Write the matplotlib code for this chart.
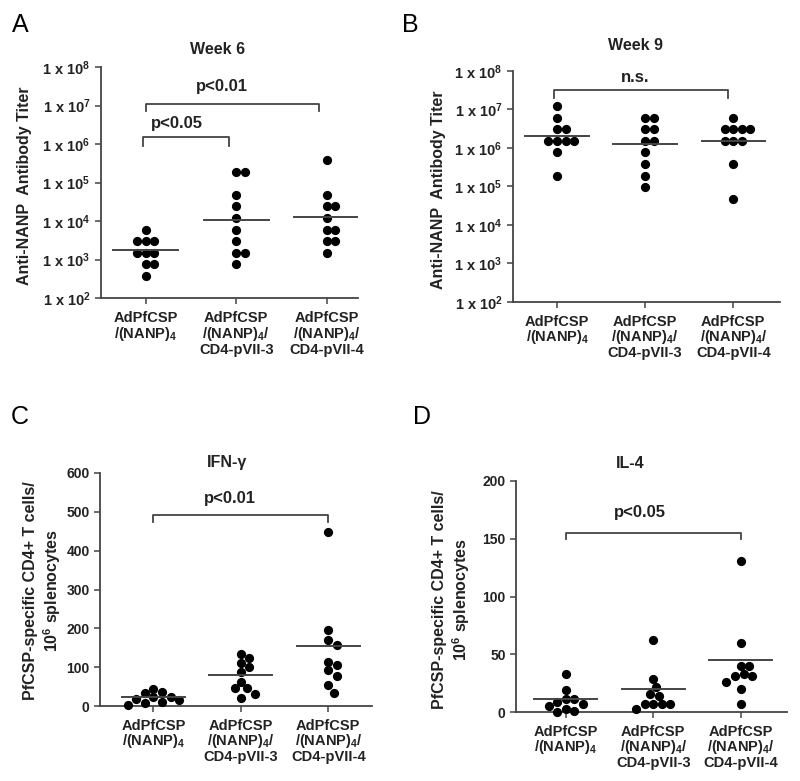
import numpy as np
import matplotlib
matplotlib.use("Agg")
import matplotlib.pyplot as plt

plt.rcParams['font.family'] = ['Liberation Sans', 'DejaVu Sans']
plt.rcParams['font.weight'] = 'bold'
plt.rcParams['mathtext.fontset'] = 'custom'
plt.rcParams['mathtext.rm'] = 'Liberation Sans:bold'
plt.rcParams['mathtext.bf'] = 'Liberation Sans:bold'
plt.rcParams['mathtext.it'] = 'Liberation Sans:bold'

# ===================== DADOS =====================
grupos = ["AdPfCSP\n/(NANP)$_4$",
          "AdPfCSP\n/(NANP)$_4$/\nCD4-pVII-3",
          "AdPfCSP\n/(NANP)$_4$/\nCD4-pVII-4"]

# A - semana 6 (titulo anti-NANP)
sem6_g1 = [6000, 3000, 3000, 3000, 1500, 1500, 1500, 750, 750, 375]
sem6_g2 = [192000, 192000, 48000, 24000, 12000, 6000, 3000, 1500, 1500, 750]
sem6_g3 = [384000, 48000, 24000, 24000, 12000, 6000, 6000, 3000, 3000, 1500]
sem6_media = [1750, 10500, 12500]

# B - semana 9
sem9_g1 = [12288000, 6144000, 3072000, 3072000, 1536000, 1536000, 1536000, 1536000, 768000, 192000]
sem9_g2 = [6144000, 6144000, 3072000, 3072000, 1536000, 1536000, 768000, 384000, 192000, 96000]
sem9_g3 = [6144000, 3072000, 3072000, 3072000, 3072000, 1536000, 1536000, 1536000, 384000, 48000]
sem9_media = [2100000, 1270000, 1480000]

# C - IFN-gama
ifn_g1 = [45, 35, 33, 24, 22, 18, 15, 11, 8, 3]
ifn_g2 = [134, 123, 110, 100, 88, 63, 46, 46, 31, 20]
ifn_g3 = [448, 195, 171, 157, 114, 105, 92, 77, 53, 34]
ifn_media = [23, 80, 154]

# D - IL-4
il4_g1 = [33, 19, 11, 11, 9, 7, 5, 3, 1, 0]
il4_g2 = [62, 29, 22, 16, 14, 7, 7, 7, 7, 3]
il4_g3 = [131, 60, 40, 40, 33, 31, 31, 26, 20, 7]
il4_media = [11, 19.5, 45]

W, H = 800, 781
COR_TXT = "#222222"
COR_EIXO = "#444444"

fig = plt.figure(figsize=(W / 100, H / 100), dpi=100)


def caixa(l, t, r, b):
    return [l / W, 1 - b / H, (r - l) / W, (b - t) / H]


def texto_px(x, y, s, **kw):
    kw.setdefault("fontweight", "bold")
    kw.setdefault("color", COR_TXT)
    fig.text(x / W, 1 - y / H, s, ha="center", va="center", **kw)


def swarm(ax, xc, vals, d=8.6):
    # distribui os pontos lado a lado quando se sobrepoem (em pixels)
    pts = []
    cx = ax.transData.transform((xc, vals[0]))[0]
    passos = [0]
    for k in range(1, 12):
        passos += [k / 3, -k / 3]
    out_x, out_y = [], []
    for v in vals:
        py = ax.transData.transform((xc, v))[1]
        for k in passos:
            px = k * d
            if all((px - qx) ** 2 + (py - qy) ** 2 >= (0.97 * d) ** 2 for qx, qy in pts):
                break
        pts.append((px, py))
        xd = ax.transData.inverted().transform((cx + px, py))[0]
        out_x.append(xd)
        out_y.append(v)
    return out_x, out_y


def painel(pos, xlim, ylim, log, dados, medias):
    ax = fig.add_axes(pos)
    if log:
        ax.set_yscale("log")
    ax.set_xlim(*xlim)
    ax.set_ylim(*ylim)
    for s in ["top", "right"]:
        ax.spines[s].set_visible(False)
    for s in ["left", "bottom"]:
        ax.spines[s].set_color(COR_EIXO)
        ax.spines[s].set_linewidth(1.3)
    ax.tick_params(colors=COR_EIXO, labelcolor=COR_TXT, width=1.1, length=4)
    ax.tick_params(axis="y", which="minor", length=0)
    ax.set_xticks([0, 1, 2])
    ax.set_xticklabels(grupos, fontsize=10.5, color=COR_TXT, fontweight="bold")
    for t in ax.get_xticklabels():
        t.set_linespacing(1.0)
    ax.tick_params(axis="x", pad=5)
    for i, vals in enumerate(dados):
        xs, ys = swarm(ax, i, vals)
        ax.scatter(xs, ys, s=44, color="black", zorder=3, clip_on=False,
                   linewidths=0)
        ax.plot([i - 0.36, i + 0.36], [medias[i], medias[i]], color=COR_EIXO,
                lw=1.4, zorder=4)
    return ax


def marcas_y(ax, valores, rotulos, tam=10):
    ax.set_yticks(valores)
    ax.set_yticklabels(rotulos, fontsize=tam, fontweight="bold", color=COR_TXT)


def colchete(ax, x0, x1, y, y_ponta, texto, tx, ty):
    ax.plot([x0, x0, x1, x1], [y_ponta, y, y, y_ponta], color=COR_EIXO, lw=1.3,
            clip_on=False)
    ax.text(tx, ty, texto, ha="center", va="center", fontsize=12,
            fontweight="bold", color=COR_TXT)


rot_log = ["1 x 10$^{%d}$" % k for k in range(2, 9)]
val_log = [10.0 ** k for k in range(2, 9)]

# ===================== PAINEL A =====================
axA = painel(caixa(101, 67, 358, 298), (-0.494, 2.346), (1e2, 1e8), True,
             [sem6_g1, sem6_g2, sem6_g3], sem6_media)
marcas_y(axA, val_log, rot_log, 10.5)
colchete(axA, -0.03, 0.92, 1.5e6, 9e5, "p<0.05", 0.34, 3.5e6)
colchete(axA, 0.0, 1.91, 1.1e7, 7e6, "p<0.01", 0.84, 3.2e7)
texto_px(218, 50, "Week 6", fontsize=11.5)
texto_px(25, 186, "Anti-NANP  Antibody Titer", fontsize=11.5, rotation=90)

# ===================== PAINEL B =====================
axB = painel(caixa(513, 71, 780, 302), (-0.5, 2.53), (1e2, 1e8), True,
             [sem9_g1, sem9_g2, sem9_g3], sem9_media)
marcas_y(axB, val_log, rot_log, 10.5)
colchete(axB, -0.03, 1.94, 3.2e7, 2e7, "n.s.", 0.89, 6.9e7)
texto_px(635, 45, "Week 9", fontsize=11.5)
texto_px(438, 190, "Anti-NANP  Antibody Titer", fontsize=11.5, rotation=90)

# ===================== PAINEL C =====================
axC = painel(caixa(100, 473, 372, 706), (-0.61, 2.5), (0, 600), False,
             [ifn_g1, ifn_g2, ifn_g3], ifn_media)
marcas_y(axC, list(range(0, 601, 100)), [str(v) for v in range(0, 601, 100)])
colchete(axC, 0, 2.0, 492, 474, "p<0.01", 0.88, 535)
texto_px(227, 463, "IFN-γ", fontsize=11.5)
texto_px(43, 591, "PfCSP-specific CD4+ T cells/\n10$^{6}$ splenocytes",
         fontsize=11.5, rotation=90, linespacing=1.15)

# ===================== PAINEL D =====================
axD = painel(caixa(516, 481, 787, 712), (-0.57, 2.53), (0, 200), False,
             [il4_g1, il4_g2, il4_g3], il4_media)
marcas_y(axD, list(range(0, 201, 50)), [str(v) for v in range(0, 201, 50)])
colchete(axD, 0, 2.0, 155, 150, "p<0.05", 0.85, 173)
texto_px(630, 463, "IL-4", fontsize=11.5)
texto_px(452, 600, "PfCSP-specific CD4+ T cells/\n10$^{6}$ splenocytes",
         fontsize=11.5, rotation=90, linespacing=1.15)

# ===================== LETRAS =====================
for letra, x, y in [("A", 20, 25), ("B", 410, 25), ("C", 20, 417), ("D", 422, 417)]:
    texto_px(x, y, letra, fontsize=18, fontweight="normal", color="black")

fig.savefig("out.png", dpi=100)
